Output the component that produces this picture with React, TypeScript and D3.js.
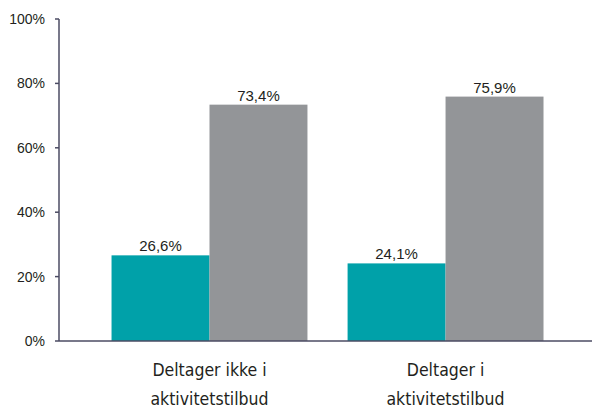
import React, { useEffect, useRef } from 'react';
import * as d3 from 'd3';

const categories = [['Deltager ikke i', 'aktivitetstilbud'], ['Deltager i', 'aktivitetstilbud']];
const seriesA = [26.6, 24.1];
const seriesB = [73.4, 75.9];
const yTicks = [0, 20, 40, 60, 80, 100];

const colors = ['#00a1a9', '#939598'];

export default function App() {
  const svgRef = useRef<SVGSVGElement>(null);

  useEffect(() => {
    if (!svgRef.current) return;
    const width = 592;
    const height = 407;
    const svg = d3.select(svgRef.current);
    svg.selectAll('*').remove();

    const x0 = 59;
    const x1 = 592;
    const yTop = 19;
    const yBottom = 341;

    const y = d3.scaleLinear().domain([0, 100]).range([yBottom, yTop]);
    const xb = d3.scaleBand<number>()
      .domain(d3.range(categories.length))
      .range([x0, x1])
      .paddingInner(0.17)
      .paddingOuter(0.214)
      .align(0.52);
    const xi = d3.scaleBand<number>().domain([0, 1]).range([0, xb.bandwidth()]);

    const data = categories.map((c, i) => ({ c, vals: [seriesA[i], seriesB[i]] }));

    // Bars
    const g = svg.append('g');
    data.forEach((d, i) => {
      d.vals.forEach((v, j) => {
        const bx = xb(i)! + xi(j)!;
        g.append('rect')
          .attr('x', bx)
          .attr('y', y(v))
          .attr('width', xi.bandwidth())
          .attr('height', y(0) - y(v))
          .attr('fill', colors[j]);
        g.append('text')
          .attr('x', bx + xi.bandwidth() / 2)
          .attr('y', y(v) - 4)
          .attr('text-anchor', 'middle')
          .attr('font-family', 'Liberation Sans, Arial, sans-serif')
          .attr('font-size', 15)
          .attr('fill', '#231f20')
          .text(v.toFixed(1).replace('.', ',') + '%');
      });
      const lab = g.append('text')
        .attr('text-anchor', 'middle')
        .attr('font-family', 'DejaVu Sans Condensed, Roboto, sans-serif')
        .attr('font-size', 17.5)
        .attr('fill', '#231f20');
      d.c.forEach((line, k) => {
        lab.append('tspan')
          .attr('x', xb(i)! + xb.bandwidth() / 2)
          .attr('y', 376 + k * 28.5)
          .text(line);
      });
    });

    // Axes
    const axisColor = '#4b4b63';
    svg.append('line')
      .attr('x1', x0).attr('x2', x0)
      .attr('y1', yTop).attr('y2', yBottom)
      .attr('stroke', axisColor).attr('stroke-width', 1.5);
    svg.append('line')
      .attr('x1', x0).attr('x2', x1)
      .attr('y1', yBottom).attr('y2', yBottom)
      .attr('stroke', axisColor).attr('stroke-width', 1.5);

    const t = svg.append('g');
    yTicks.forEach(v => {
      t.append('line')
        .attr('x1', x0 - 4).attr('x2', x0)
        .attr('y1', y(v)).attr('y2', y(v))
        .attr('stroke', axisColor).attr('stroke-width', 1.5);
      t.append('text')
        .attr('x', 45)
        .attr('y', y(v))
        .attr('dy', '0.35em')
        .attr('text-anchor', 'end')
        .attr('font-family', 'Liberation Sans, Arial, sans-serif')
        .attr('font-size', 14)
        .attr('fill', '#231f20')
        .text(v + '%');
    });

    svg.attr('viewBox', `0 0 ${width} ${height}`);
  }, []);

  return (
    <svg ref={svgRef} width={592} height={407}
      style={{ position: 'absolute', left: 0, top: 0, background: '#fff' }} />
  );
}
